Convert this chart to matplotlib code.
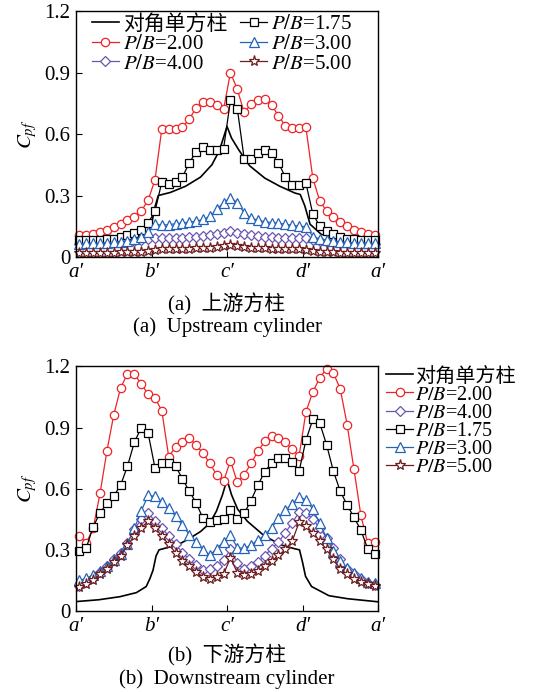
import numpy as np
import matplotlib
matplotlib.use("Agg")
import matplotlib.pyplot as plt

plt.rcParams['font.family'] = ['Liberation Serif', 'Noto Sans CJK SC']
plt.rcParams['mathtext.fontset'] = 'stix'
plt.rcParams['font.size'] = 15

# pressure taps, 11 per face, a'-b'-c'-d'-a'
n_taps = 44
x_taps = (np.arange(n_taps) + 0.5) / 11

tick_pos = [0, 1, 2, 3, 4]
tick_labels = ["a′", "b′", "c′", "d′", "a′"]
y_ticks = [0, 0.3, 0.6, 0.9, 1.2]
y_tick_labels = ["0", "0.3", "0.6", "0.9", "1.2"]

# (a) upstream cylinder
single_x_a = [0, 0.3, 0.6, 0.85, 0.95, 1.0, 1.05, 1.09, 1.25, 1.45, 1.65, 1.8, 1.9, 1.96,
              2.0, 2.06, 2.16, 2.3, 2.5, 2.7, 2.9, 2.97, 3.03, 3.1, 3.25, 3.5, 3.75, 4.0]
single_y_a = [0.075, 0.08, 0.09, 0.105, 0.125, 0.16, 0.25, 0.30, 0.315, 0.345, 0.39, 0.45, 0.52, 0.59,
              0.637, 0.58, 0.52, 0.445, 0.385, 0.345, 0.312, 0.305, 0.25, 0.16, 0.11, 0.095, 0.085, 0.08]
pb200_a = [0.106, 0.107, 0.112, 0.122, 0.133, 0.146, 0.163, 0.179, 0.197, 0.224, 0.277, 0.375,
           0.625, 0.622, 0.622, 0.632, 0.672, 0.728, 0.757, 0.757, 0.741, 0.72,
           0.90, 0.818, 0.705, 0.745, 0.765, 0.769, 0.741, 0.689, 0.64, 0.627, 0.627, 0.632,
           0.385, 0.275, 0.224, 0.195, 0.171, 0.15, 0.132, 0.122, 0.114, 0.106]
pb175_a = [0.082, 0.082, 0.083, 0.084, 0.086, 0.09, 0.098, 0.106, 0.118, 0.133, 0.166, 0.222,
           0.366, 0.358, 0.366, 0.39, 0.459, 0.513, 0.537, 0.524, 0.521, 0.529,
           0.764, 0.724, 0.48, 0.48, 0.505, 0.52, 0.505, 0.459, 0.39, 0.353, 0.353, 0.36,
           0.21, 0.152, 0.125, 0.11, 0.098, 0.09, 0.087, 0.085, 0.084, 0.083]
pb300_a = [0.065, 0.066, 0.067, 0.068, 0.07, 0.072, 0.075, 0.08, 0.086, 0.096, 0.12, 0.16,
           0.155, 0.158, 0.162, 0.166, 0.17, 0.175, 0.183, 0.198, 0.232, 0.265,
           0.29, 0.265, 0.215, 0.19, 0.18, 0.172, 0.168, 0.165, 0.16, 0.155, 0.15, 0.148,
           0.1, 0.088, 0.082, 0.078, 0.074, 0.072, 0.07, 0.069, 0.068, 0.067]
pb400_a = [0.065, 0.066, 0.067, 0.068, 0.07, 0.072, 0.074, 0.077, 0.08, 0.085, 0.09, 0.095,
           0.093, 0.092, 0.093, 0.095, 0.097, 0.1, 0.103, 0.107, 0.112, 0.118,
           0.125, 0.118, 0.112, 0.107, 0.103, 0.1, 0.097, 0.095, 0.093, 0.092, 0.093, 0.094,
           0.085, 0.08, 0.075, 0.072, 0.07, 0.068, 0.066, 0.065, 0.064, 0.063]
pb500_a = [0.02, 0.02, 0.02, 0.02, 0.02, 0.021, 0.022, 0.022, 0.023, 0.025, 0.028, 0.035,
           0.038, 0.038, 0.039, 0.04, 0.041, 0.042, 0.044, 0.046, 0.05, 0.054,
           0.06, 0.054, 0.05, 0.046, 0.044, 0.042, 0.041, 0.04, 0.039, 0.038, 0.038, 0.036,
           0.028, 0.025, 0.023, 0.022, 0.021, 0.02, 0.02, 0.02, 0.02, 0.02]

# (b) downstream cylinder
single_x_b = [0, 0.3, 0.58, 0.8, 0.93, 0.98, 1.02, 1.06, 1.1, 1.2, 1.35, 1.5, 1.65, 1.77, 1.86,
              1.94, 2.0, 2.06, 2.14, 2.27, 2.49, 2.71, 2.9, 2.96, 3.0, 3.04, 3.12, 3.35, 3.6, 4.0]
single_y_b = [0.046, 0.055, 0.07, 0.09, 0.12, 0.16, 0.2, 0.27, 0.3, 0.31, 0.325, 0.355, 0.39, 0.43, 0.49,
              0.57, 0.645, 0.57, 0.5, 0.44, 0.37, 0.325, 0.305, 0.3, 0.24, 0.17, 0.12, 0.075, 0.06, 0.045]
pb200_b = [0.368, 0.335, 0.405, 0.577, 0.785, 0.963, 1.095, 1.165, 1.163, 1.114,
           1.065, 1.045, 0.983, 0.758, 0.803, 0.828, 0.85, 0.813, 0.775, 0.724,
           0.668, 0.636, 0.738, 0.632, 0.668, 0.724, 0.784, 0.832, 0.858, 0.85,
           0.828, 0.793, 0.76, 0.977, 1.075, 1.143, 1.19, 1.168, 1.09, 0.915,
           0.695, 0.47, 0.332, 0.337]
pb175_b = [0.294, 0.31, 0.413, 0.482, 0.528, 0.564, 0.618, 0.711, 0.828, 0.899,
           0.874, 0.703, 0.724, 0.724, 0.711, 0.649, 0.588, 0.531, 0.454, 0.436,
           0.446, 0.449, 0.498, 0.449, 0.479, 0.542, 0.618, 0.683, 0.727, 0.752,
           0.752, 0.73, 0.686, 0.838, 0.94, 0.923, 0.817, 0.686, 0.588, 0.52,
           0.46, 0.397, 0.306, 0.281]
pb300_b = [0.15, 0.16, 0.178, 0.198, 0.22, 0.248, 0.28, 0.33, 0.405, 0.49,
           0.567, 0.562, 0.537, 0.505, 0.465, 0.42, 0.375, 0.34, 0.3, 0.275,
           0.305, 0.34, 0.372, 0.311, 0.307, 0.324, 0.348, 0.373, 0.409, 0.454,
           0.495, 0.525, 0.56, 0.545, 0.5, 0.43, 0.36, 0.292, 0.245, 0.21,
           0.185, 0.16, 0.144, 0.136]
pb400_b = [0.123, 0.142, 0.163, 0.19, 0.22, 0.253, 0.286, 0.335, 0.4, 0.45,
           0.482, 0.441, 0.408, 0.368, 0.327, 0.286, 0.253, 0.224, 0.2, 0.204,
           0.22, 0.25, 0.302, 0.234, 0.204, 0.22, 0.24, 0.27, 0.306, 0.338,
           0.384, 0.433, 0.485, 0.482, 0.449, 0.408, 0.36, 0.31, 0.253, 0.204,
           0.18, 0.155, 0.139, 0.126]
pb500_b = [0.119, 0.131, 0.152, 0.18, 0.204, 0.24, 0.27, 0.322, 0.368, 0.408,
           0.441, 0.408, 0.368, 0.327, 0.286, 0.245, 0.22, 0.191, 0.168, 0.155,
           0.168, 0.18, 0.261, 0.188, 0.175, 0.18, 0.196, 0.22, 0.245, 0.273,
           0.302, 0.343, 0.435, 0.417, 0.384, 0.343, 0.302, 0.253, 0.207, 0.18,
           0.158, 0.142, 0.131, 0.123]

red = '#ee2326'
purple = '#6a55b0'
blue = '#2463b8'
brown = '#6e1c1f'

fig = plt.figure(figsize=(5.38, 6.92), dpi=100)
ax1 = fig.add_axes([0.1413, 0.6286, 0.5613, 0.3555])
ax2 = fig.add_axes([0.1413, 0.1171, 0.5613, 0.3533])


def draw(ax, sx, sy, p200, p400, p175, p300, p500):
    kw = dict(lw=0.9, mew=0.9, mfc='white', clip_on=False)
    ax.plot(sx, sy, color='black', lw=1.2, label='对角单方柱')
    ax.plot(x_taps, p200, color=red, marker='o', ms=6, mec=red, label='$P/B$=2.00', **kw)
    ax.plot(x_taps, p400, color=purple, marker='D', ms=5, mec=purple, label='$P/B$=4.00', **kw)
    ax.plot(x_taps, p175, color='black', marker='s', ms=6, mec='black', label='$P/B$=1.75', **kw)
    ax.plot(x_taps, p300, color=blue, marker='^', ms=6.5, mec=blue, label='$P/B$=3.00', **kw)
    ax.plot(x_taps, p500, color=brown, marker='*', ms=8, mec=brown, label='$P/B$=5.00', **kw)
    ax.set_xlim(0, 4)
    ax.set_ylim(0, 1.2)
    ax.set_xticks(tick_pos)
    ax.set_xticklabels(tick_labels, fontstyle='italic')
    ax.set_yticks(y_ticks)
    ax.set_yticklabels(y_tick_labels)
    ax.tick_params(direction='in', length=4, width=0.8, labelsize=15, pad=4)
    ax.set_ylabel('$C_{pf}$', fontsize=15, labelpad=4)
    for s in ax.spines.values():
        s.set_linewidth(1.0)


draw(ax1, single_x_a, single_y_a, pb200_a, pb400_a, pb175_a, pb300_a, pb500_a)
draw(ax2, single_x_b, single_y_b, pb200_b, pb400_b, pb175_b, pb300_b, pb500_b)

ax1.legend(loc='upper left', bbox_to_anchor=(0.025, 1.02), ncol=2, frameon=False,
           fontsize=15, handlelength=1.3, handletextpad=0.2, columnspacing=0.6,
           labelspacing=0.0, borderaxespad=0)
ax2.legend(loc='upper left', bbox_to_anchor=(1.0, 1.03), ncol=1, frameon=False,
           fontsize=14.5, handlelength=1.35, handletextpad=0.1,
           labelspacing=-0.05, borderaxespad=0)

cx = 0.1413 + 0.5613 / 2
fig.text(cx, 1 - 304 / 692, '(a)  上游方柱', ha='center', va='center', fontsize=15)
fig.text(cx, 1 - 327 / 692, '(a)  Upstream cylinder', ha='center', va='center', fontsize=15)
fig.text(cx, 1 - 655 / 692, '(b)  下游方柱', ha='center', va='center', fontsize=15)
fig.text(cx, 1 - 679 / 692, '(b)  Downstream cylinder', ha='center', va='center', fontsize=15)

fig.savefig('out.png', dpi=100)
